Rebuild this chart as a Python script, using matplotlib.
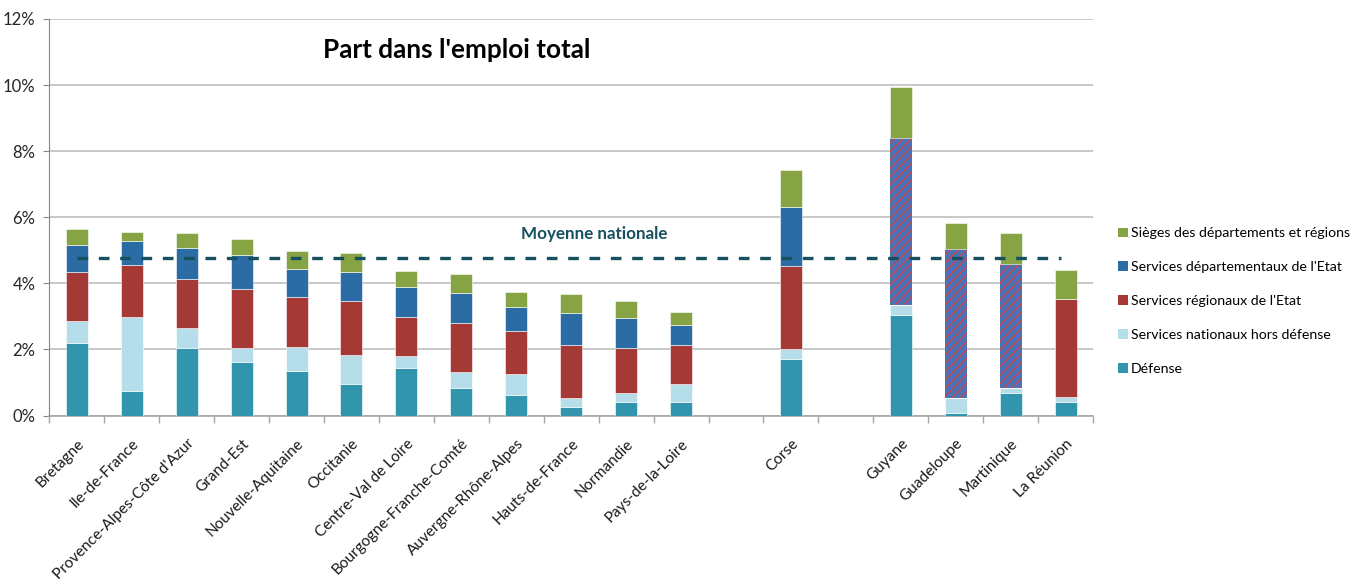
import matplotlib
matplotlib.use("Agg")
import matplotlib.pyplot as plt
from matplotlib.patches import Patch
import matplotlib.transforms as mtransforms
import numpy as np

plt.rcParams['font.family'] = ['Lato', 'DejaVu Sans']

categories = ["Bretagne", "Ile-de-France", "Provence-Alpes-Côte d'Azur", "Grand-Est",
              "Nouvelle-Aquitaine", "Occitanie", "Centre-Val de Loire",
              "Bourgogne-Franche-Comté", "Auvergne-Rhône-Alpes", "Hauts-de-France",
              "Normandie", "Pays-de-la-Loire", "", "Corse", "",
              "Guyane", "Guadeloupe", "Martinique", "La Réunion"]

# segment heights, in % of total employment
defense = [2.20, 0.75, 2.04, 1.62, 1.36, 0.96, 1.44, 0.85, 0.63, 0.25, 0.41, 0.41,
           0, 1.71, 0, 3.04, 0.08, 0.68, 0.41]
nationaux = [0.66, 2.24, 0.61, 0.44, 0.72, 0.88, 0.37, 0.46, 0.64, 0.29, 0.28, 0.55,
             0, 0.30, 0, 0.31, 0.44, 0.16, 0.15]
regionaux = [1.48, 1.56, 1.48, 1.77, 1.51, 1.62, 1.18, 1.49, 1.29, 1.60, 1.37, 1.18,
             0, 2.53, 0, 0, 0, 0, 2.96]
departementaux = [0.83, 0.73, 0.94, 1.02, 0.86, 0.88, 0.90, 0.92, 0.74, 0.96, 0.88, 0.61,
                  0, 1.78, 0, 0, 0, 0, 0]
# regional + departmental services not separated (overseas)
reg_dep_combined = [0] * 15 + [5.06, 4.51, 3.74, 0]
sieges = [0.47, 0.29, 0.45, 0.48, 0.54, 0.57, 0.49, 0.56, 0.45, 0.57, 0.52, 0.39,
          0, 1.10, 0, 1.54, 0.80, 0.93, 0.89]
moyenne_nationale = 4.76

series_labels = ["Défense", "Services nationaux hors défense", "Services régionaux de l'Etat",
                 "Services départementaux de l'Etat", "Sièges des départements et régions"]
colors = ["#3195AE", "#B6DDEA", "#A53935", "#2B6CA4", "#86A443"]
hatch_face = "#4A72B8"
hatch_color = "#C8474A"

fig = plt.figure(figsize=(13.66, 5.88), dpi=100)
renderer = fig.canvas.get_renderer()


def fit_size(text, target_px, base=12.0, **kw):
    t = fig.text(0, 0, text, fontsize=base, **kw)
    w = t.get_window_extent(renderer=renderer).width
    t.remove()
    return base * target_px / w


ax = fig.add_axes([0.0361, 0.2932, 0.8002 - 0.0361, 0.6745])

x = np.arange(len(categories))
width = 0.4
bottom = np.zeros(len(categories))
stack = [defense, nationaux, regionaux, departementaux]
for vals, col, lab in zip(stack, colors[:4], series_labels[:4]):
    v = np.array(vals)
    ax.bar(x, v, width, bottom=bottom, color=col, edgecolor="white", linewidth=0.4,
           label=lab, zorder=3)
    bottom += v
comb = np.array(reg_dep_combined)
ax.bar(x, comb, width, bottom=bottom, color=hatch_face, edgecolor=hatch_color,
       hatch="////", linewidth=0, zorder=3)
bottom += comb
ax.bar(x, sieges, width, bottom=bottom, color=colors[4], edgecolor="white", linewidth=0.4,
       label=series_labels[4], zorder=3)

# national average
ax.plot([0, len(categories) - 1.08], [moyenne_nationale, moyenne_nationale],
        linestyle=(0, (3.2, 3.2)), color="#17505F", linewidth=2.4, zorder=4)
mn_size = fit_size("Moyenne nationale", 146, fontweight="bold")
ax.text(9.42, 5.49, "Moyenne nationale", ha="center", va="center", fontsize=mn_size,
        fontweight="bold", color="#17505F")

title_size = fit_size("Part dans l'emploi total", 266, fontweight="bold")
ax.text(0.3906, 0.921, "Part dans l'emploi total", transform=ax.transAxes,
        ha="center", va="center", fontsize=title_size, fontweight="bold", color="black")

ax.set_xlim(-0.5, len(categories) - 0.5)
ax.set_ylim(0, 12)
yt = np.arange(0, 13, 2)
ax.set_yticks(yt)
ax.set_yticklabels([f"{v}%" for v in yt], fontsize=12, color="#262626")
ax.yaxis.grid(True, color="#BFBFBF", linewidth=1.2, zorder=0)
ax.set_axisbelow(True)
ax.tick_params(axis="y", length=4, color="#868686", pad=6)

xl_size = min(fit_size("Provence-Alpes-Côte d'Azur", 192), 12.5)
ax.set_xticks(x)
labs = ax.set_xticklabels(categories, rotation=45, ha="right", rotation_mode="anchor",
                          fontsize=xl_size, color="#1a1a1a")
offset = mtransforms.ScaledTranslation(-0.5 / 100, 0, fig.dpi_scale_trans)
for t in labs:
    t.set_transform(t.get_transform() + offset)
ax.tick_params(axis="x", which="major", length=0, pad=15)
ax.set_xticks(np.arange(-0.5, len(categories)), minor=True)
ax.tick_params(axis="x", which="minor", length=5, color="#A6A6A6", width=1)

for s in ["top", "right"]:
    ax.spines[s].set_visible(False)
ax.spines["left"].set_color("#868686")
ax.spines["bottom"].set_color("#A6A6A6")
ax.spines["bottom"].set_linewidth(1.2)

leg_size = fit_size("Sièges des départements et régions", 219)
fs_px = leg_size * 100 / 72
row_px = 35.0
handles = [Patch(facecolor=c, edgecolor="none") for c in colors[::-1]]
leg = fig.legend(handles, series_labels[::-1], loc="upper left",
                 bbox_to_anchor=(1118 / 1366, 1 - (234.0 - 0.47 * fs_px) / 588),
                 frameon=False, fontsize=leg_size,
                 handlelength=9.5 / fs_px, handleheight=9.5 / fs_px,
                 handletextpad=3.5 / fs_px,
                 labelspacing=(row_px - 0.93 * fs_px) / fs_px, borderpad=0, borderaxespad=0)

fig.savefig("out.png", dpi=100)
